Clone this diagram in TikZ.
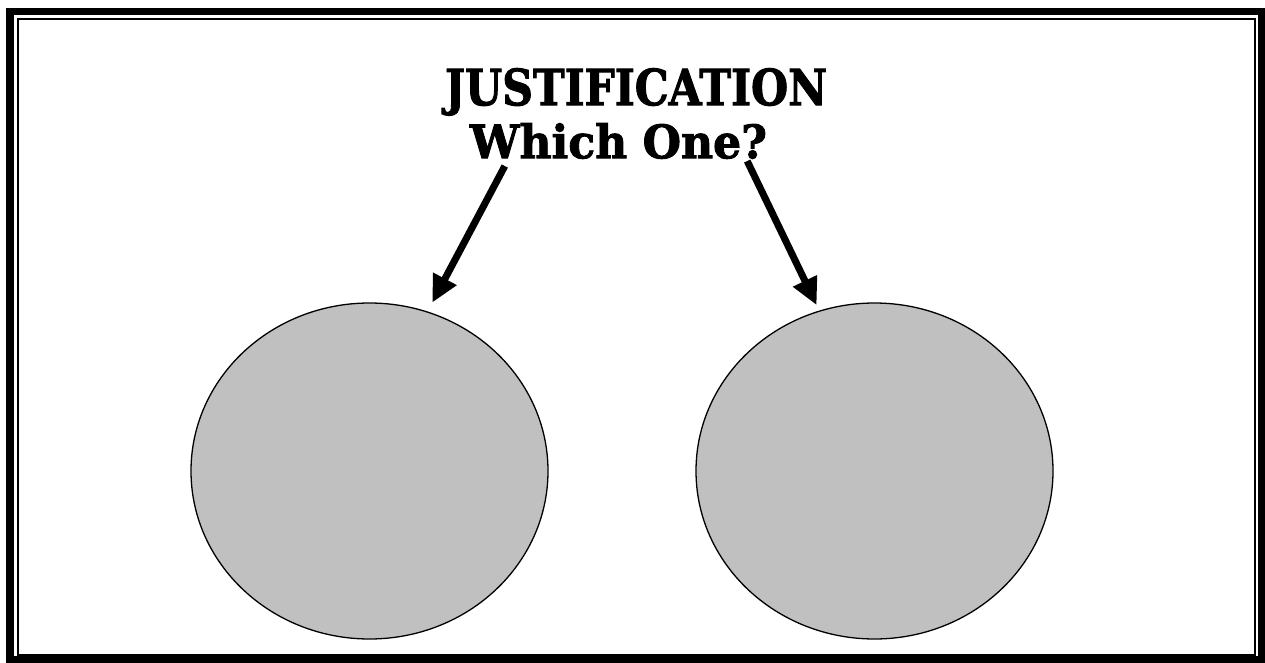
\documentclass[tikz,border=0pt]{standalone}
\usepackage{fontspec}
\newfontfamily\titlefont[FakeBold=2]{DejaVu Serif}
\usetikzlibrary{arrows.meta,shapes.geometric,calc}
\definecolor{circgray}{RGB}{192,192,192}
\tikzset{
  blob/.style={ellipse, draw=black, line width=1.3pt, fill=circgray, minimum width=357pt, minimum height=336pt, inner sep=0pt},
  arr/.style={line width=7pt, -{Triangle[length=27pt,width=25pt]}},
  ttl/.style={inner sep=0pt, anchor=north},
  outerframe/.style={line width=7.5pt},
  innerframe/.style={line width=2pt}
}
\begin{document}
\begin{tikzpicture}[x=1pt,y=-1pt]
\useasboundingbox (0,0) rectangle (1265,663);
\draw[outerframe] (10,11.5) rectangle (1261.5,660);
\draw[innerframe] (17.5,19) rectangle (1255,654.5);
\node[ttl] (t1) at (636,68) {\resizebox{382pt}{37pt}{\titlefont\bfseries JUSTIFICATION}};
\node[ttl] (t2) at (618.5,123) {\resizebox{297pt}{35pt}{\titlefont\bfseries Which One?}};
\node[blob] (L) at (369.5,471) {};
\node[blob] (R) at (874.5,471) {};
\draw[arr, shorten >=10pt] ($(t2.south west)+(35,7)$) -- (L.70);
\draw[arr, shorten >=6pt] ($(t2.south east)+(-20,2)$) -- (R.109);
\end{tikzpicture}
\end{document}
